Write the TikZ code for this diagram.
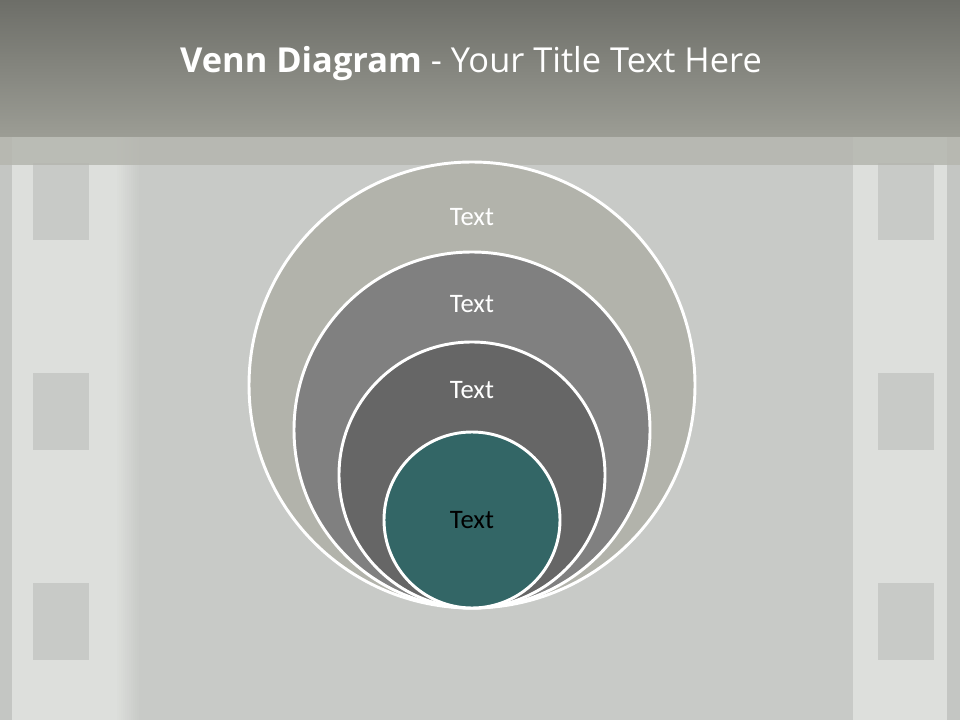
\documentclass[tikz,border=0pt]{standalone}
\usepackage{fontspec}
\setmainfont{Carlito}
\newfontfamily\titlefont{Open Sans}
\usetikzlibrary{positioning}
\definecolor{barTop}{HTML}{6D6E68}
\definecolor{barBot}{HTML}{9C9D95}
\definecolor{bandC}{HTML}{B5B6AF}
\definecolor{panelC}{HTML}{C8CAC7}
\definecolor{stripC}{HTML}{DDDFDC}
\definecolor{edgeC}{HTML}{C4C6C3}
\definecolor{holeC}{HTML}{C8CAC7}
\definecolor{ringA}{HTML}{B2B3AB}
\definecolor{ringB}{HTML}{808080}
\definecolor{ringC}{HTML}{666666}
\definecolor{ringD}{HTML}{336666}
\tikzset{
  ring/.style={circle, draw=white, line width=2.2pt, inner sep=0pt},
  ringlabel/.style={font=\fontsize{20}{22}\selectfont, text=white},
  hole/.style={fill=holeC, draw=none},
}
\begin{document}
\begin{tikzpicture}[x=0.75pt,y=-0.75pt]
\useasboundingbox (0,0) rectangle (960,720);
% background
\fill[panelC] (0,0) rectangle (960,720);
% left film strip
\fill[edgeC] (0,137) rectangle (12,720);
\fill[stripC] (12,137) rectangle (115,720);
\foreach \i in {0,...,11} {
  \pgfmathsetmacro{\pc}{100-\i*8.33}
  \fill[stripC!\pc!panelC] (115+2*\i,137) rectangle (117.2+2*\i,720);
}
% right film strip
\fill[stripC] (853,137) rectangle (947,720);
\fill[edgeC] (947,137) rectangle (960,720);
% sprocket holes
\foreach \yy in {163,373,583} {
  \fill[hole] (33,\yy) rectangle (89,\yy+77);
  \fill[hole] (878,\yy) rectangle (934,\yy+77);
}
% band under title
\fill[bandC, opacity=0.85] (0,137) rectangle (960,165);
% title bar
\shade[top color=barTop, bottom color=barBot] (0,0) rectangle (960,137);
\node[text=white, font=\titlefont\fontsize{25.8}{28}\selectfont] (title) at (471,64)
  {\textbf{Venn Diagram} - Your Title Text Here};
% rings
\node[ring, fill=ringA, minimum size=446*0.75pt] (c1) at (472,385) {};
\node[ring, fill=ringB, minimum size=356*0.75pt] (c2) at (472,430) {};
\node[ring, fill=ringC, minimum size=266*0.75pt] (c3) at (472,475) {};
\node[ring, fill=ringD, minimum size=176*0.75pt] (c4) at (472,520) {};
% labels
\node[ringlabel] (t1) at (472,217) {Text};
\node[ringlabel] (t2) at (472,304) {Text};
\node[ringlabel] (t3) at (472,390) {Text};
\node[ringlabel, text=black] (t4) at (472,520) {Text};
\end{tikzpicture}
\end{document}
